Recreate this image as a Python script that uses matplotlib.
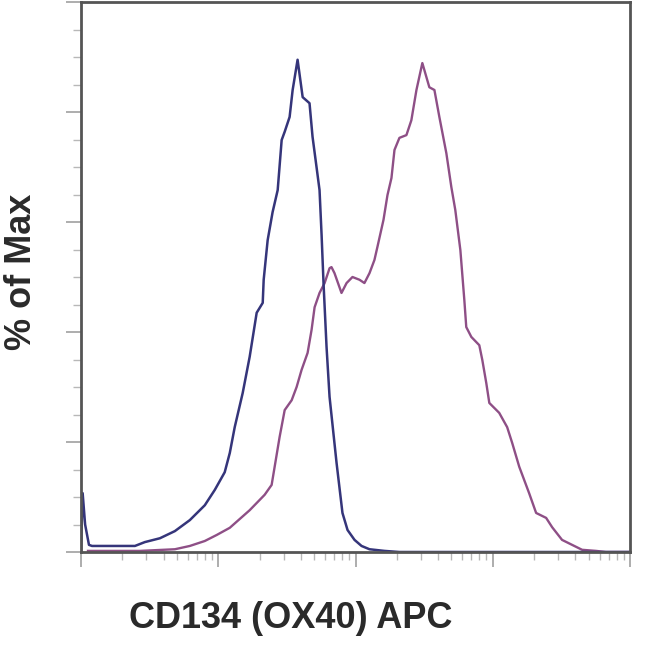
import matplotlib
matplotlib.use("Agg")
import matplotlib.pyplot as plt
import numpy as np

# Histogram traces
# x: display position in decades (0 = left edge, 4 = right edge), y: % of Max
isotype_x = [0.000, 0.012, 0.030, 0.058, 0.080, 0.393, 0.465, 0.575, 0.684, 0.793,
             0.902, 0.975, 1.047, 1.084, 1.120, 1.178, 1.229, 1.280, 1.324, 1.331,
             1.360, 1.396, 1.433, 1.462, 1.484, 1.520, 1.542, 1.578, 1.615, 1.665,
             1.687, 1.716, 1.738, 1.753, 1.767, 1.789, 1.811, 1.862, 1.905, 1.942,
             1.993, 2.044, 2.102, 2.211, 2.320, 3.993]
isotype_y = [0.0, 10.7, 5.0, 1.3, 1.1, 1.1, 1.8, 2.5, 3.8, 5.8,
             8.5, 11.3, 14.5, 18.0, 22.7, 28.9, 35.5, 43.5, 45.3, 49.5,
             56.7, 61.8, 65.8, 74.9, 76.4, 79.1, 84.0, 89.5, 82.7, 81.6,
             75.5, 70.0, 65.8, 57.6, 48.9, 37.3, 28.2, 16.2, 7.1, 4.0,
             2.2, 1.1, 0.5, 0.2, 0.0, 0.0]

stained_x = [0.051, 0.429, 0.684, 0.793, 0.902, 0.989, 1.084, 1.229, 1.338, 1.389,
             1.411, 1.447, 1.484, 1.535, 1.571, 1.607, 1.651, 1.680, 1.702, 1.738,
             1.775, 1.811, 1.825, 1.847, 1.898, 1.935, 1.978, 2.029, 2.065, 2.102,
             2.138, 2.160, 2.204, 2.233, 2.262, 2.284, 2.320, 2.371, 2.407, 2.444,
             2.487, 2.538, 2.575, 2.611, 2.662, 2.698, 2.727, 2.764, 2.793, 2.807,
             2.844, 2.902, 2.924, 2.953, 2.975, 3.047, 3.105, 3.142, 3.193, 3.265,
             3.316, 3.389, 3.433, 3.505, 3.578, 3.651, 3.753, 3.825, 3.993]
stained_y = [0.2, 0.2, 0.5, 1.1, 2.0, 3.1, 4.4, 7.6, 10.4, 12.2,
             15.5, 20.9, 25.8, 27.6, 30.0, 33.1, 36.2, 40.4, 44.5, 47.1,
             48.9, 51.6, 51.8, 50.7, 47.1, 48.9, 50.0, 49.5, 48.9, 50.7,
             53.1, 55.5, 60.4, 64.9, 68.0, 73.1, 75.3, 75.8, 78.5, 84.0,
             88.9, 84.5, 84.0, 79.1, 72.5, 66.4, 62.2, 54.9, 45.8, 40.9,
             39.1, 37.6, 34.9, 30.7, 27.1, 25.3, 22.7, 19.8, 15.5, 10.7,
             7.1, 6.2, 4.5, 2.2, 1.3, 0.4, 0.2, 0.0, 0.0]

x_label = "CD134 (OX40) APC"
y_label = "% of Max"

plt.rcParams['font.family'] = ['Liberation Sans', 'DejaVu Sans']

fig = plt.figure(figsize=(6.5, 6.5), dpi=100)
ax = fig.add_axes([81 / 650, 98 / 650, 549 / 650, 550 / 650])

ax.plot(stained_x, stained_y, color='#8e4f86', lw=1.7)
ax.plot(isotype_x, isotype_y, color='#35357a', lw=1.8)

ax.set_xlim(0, 4)
ax.set_ylim(0, 100)

# log-style decade ticks
major_x = np.arange(0, 5)
minor_x = [d + np.log10(k) for d in range(4) for k in range(2, 10)]
ax.set_xticks(major_x)
ax.set_xticks(minor_x, minor=True)
ax.set_yticks(np.arange(0, 101, 20))
ax.set_yticks(np.arange(0, 101, 5), minor=True)
ax.set_xticklabels([])
ax.set_yticklabels([])
ax.tick_params(which='major', length=11, width=1.2, color='#a0a0a0', direction='out')
ax.tick_params(which='minor', length=6, width=1.0, color='#b8b8b8', direction='out')

for s in ax.spines.values():
    s.set_color('#555555')
    s.set_linewidth(2)

fig.text(291 / 650, 22 / 650, x_label, fontsize=26, fontweight='bold',
         color='#2a2a2a', ha='center', va='baseline')
fig.text(22 / 650, 378 / 650, y_label, fontsize=26, fontweight='bold',
         color='#2a2a2a', ha='center', va='center', rotation=90)

fig.savefig("out.png", dpi=100)
